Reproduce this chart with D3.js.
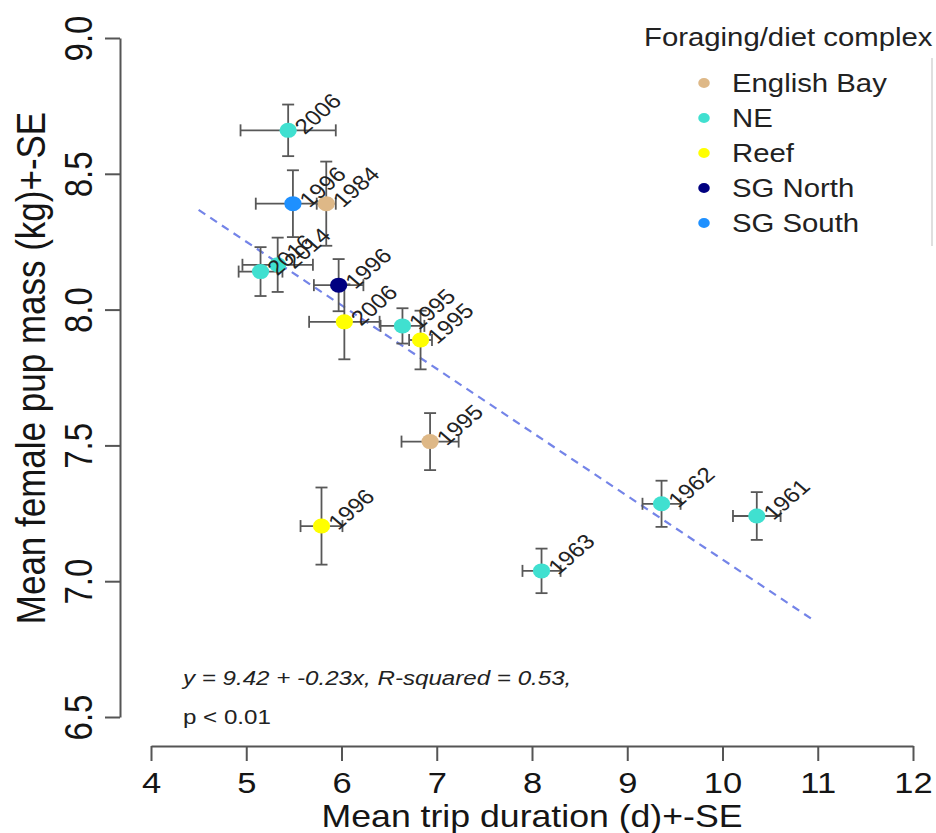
<!DOCTYPE html>
<html>
<head>
<meta charset="utf-8">
<script src="https://cdn.jsdelivr.net/npm/d3@7"></script>
<style>
  html, body { margin: 0; padding: 0; background: #fff; }
  svg { display: block; font-family: "Liberation Sans", Arial, Helvetica, sans-serif; }
</style>
</head>
<body>
<svg id="chart" width="936" height="833"></svg>
<script>
// Colony-year means: trip duration (d) vs female pup mass (kg), with SEs
const years     = ["2006", "1996", "1984", "2016", "2014", "1996", "2006", "1995", "1995", "1995", "1996", "1963", "1962", "1961"];
const complexes = ["NE", "SG South", "English Bay", "NE", "NE", "SG North", "Reef", "NE", "Reef", "English Bay", "Reef", "NE", "NE", "NE"];
const tripDays  = [5.44, 5.49, 5.84, 5.15, 5.33, 5.97, 6.03, 6.64, 6.83, 6.93, 5.79, 8.10, 9.36, 10.36];
const tripSE    = [0.50, 0.39, 0.10, 0.23, 0.37, 0.26, 0.37, 0.23, 0.12, 0.30, 0.22, 0.20, 0.20, 0.25];
const pupMass   = [8.66, 8.39, 8.39, 8.14, 8.165, 8.09, 7.955, 7.94, 7.888, 7.514, 7.203, 7.038, 7.285, 7.24];
const pupMassSE = [0.095, 0.123, 0.155, 0.09, 0.10, 0.096, 0.138, 0.065, 0.108, 0.105, 0.142, 0.082, 0.085, 0.088];

// Legend groups and their colours
const groupNames  = ["English Bay", "NE", "Reef", "SG North", "SG South"];
const groupColors = ["#deb887", "#40e0d0", "#ffff00", "#000080", "#1e90ff"];

// Axis ticks
const xTicks = [4, 5, 6, 7, 8, 9, 10, 11, 12];
const yTicks = [6.5, 7.0, 7.5, 8.0, 8.5, 9.0];

// Linear fit (coefficients shown rounded to 2 dp), drawn across the fitted range
const fitIntercept = 9.42;
const fitSlope = -0.234;
const fitRange = [4.5, 10.95];
const fitR2 = 0.53;

// The figure is rendered slightly wide: text glyphs are stretched horizontally
const stretch = 1.15;

const svg = d3.select("#chart");
const x = d3.scaleLinear().domain([4, 12]).range([151, 913]);
const y = d3.scaleLinear().domain([6.5, 9.0]).range([717, 38]);
const color = d3.scaleOrdinal().domain(groupNames).range(groupColors);

const axisColor = "#555";
const textColor = "#151515";

function addText(parent, px, py, str, opts) {
  const g = parent.append("g").attr("transform", `translate(${px},${py}) scale(${stretch},1)` + (opts.rotate ? ` rotate(${opts.rotate})` : ""));
  return g.append("text")
    .attr("text-anchor", opts.anchor || "start")
    .attr("font-size", opts.size)
    .attr("font-style", opts.italic ? "italic" : null)
    .attr("dominant-baseline", opts.baseline || null)
    .attr("fill", opts.fill || textColor)
    .text(str);
}

// X axis, detached below the plot
const xAxis = svg.append("g")
  .attr("transform", "translate(0,746)")
  .call(d3.axisBottom(x).tickValues(xTicks).tickFormat(d3.format("d")).tickSize(15).tickSizeOuter(0));
xAxis.select(".domain").attr("stroke", axisColor).attr("stroke-width", 2);
xAxis.selectAll(".tick line").attr("stroke", axisColor).attr("stroke-width", 2);
xAxis.selectAll(".tick text")
  .attr("fill", textColor).attr("font-size", 30)
  .attr("font-family", "Liberation Sans, Arial, sans-serif")
  .attr("y", null).attr("dy", null)
  .attr("transform", `translate(0,47) scale(${stretch},1)`);

// Y axis, detached left of the plot, labels parallel to the axis
const yAxis = svg.append("g")
  .attr("transform", "translate(120,0)")
  .call(d3.axisLeft(y).tickValues(yTicks).tickFormat(d3.format(".1f")).tickSize(15).tickSizeOuter(0));
yAxis.select(".domain").attr("stroke", axisColor).attr("stroke-width", 2);
yAxis.selectAll(".tick line").attr("stroke", axisColor).attr("stroke-width", 2);
yAxis.selectAll(".tick text")
  .attr("fill", textColor)
  .attr("font-size", 33)
  .attr("font-family", "Liberation Sans, Arial, sans-serif")
  .attr("x", null).attr("dy", null)
  .attr("text-anchor", "middle")
  .attr("transform", `translate(-28,0) scale(${stretch},1) rotate(-90)`);

// Axis titles
addText(svg, 532, 827, "Mean trip duration (d)+-SE", { size: 31, anchor: "middle" });
addText(svg, 45, 368, "Mean female pup mass (kg)+-SE", { size: 35, anchor: "middle", rotate: -90 });

// Regression line
svg.append("line")
  .attr("x1", x(fitRange[0])).attr("y1", y(fitIntercept + fitSlope * fitRange[0]))
  .attr("x2", x(fitRange[1])).attr("y2", y(fitIntercept + fitSlope * fitRange[1]))
  .attr("stroke", "#7484e8")
  .attr("stroke-width", 2.2)
  .attr("stroke-dasharray", "8,6");

const data = years.map((yr, i) => ({
  year: yr, group: complexes[i],
  x: tripDays[i], xse: tripSE[i], y: pupMass[i], yse: pupMassSE[i]
}));

// Error bars (x and y, with end caps)
const cap = 6;
const bars = svg.append("g").attr("stroke", "#585858").attr("stroke-width", 1.8).attr("fill", "none");
data.forEach(d => {
  const g = bars.append("g");
  const cx = x(d.x), cy = y(d.y);
  const x0 = x(d.x - d.xse), x1 = x(d.x + d.xse);
  const y0 = y(d.y - d.yse), y1 = y(d.y + d.yse);
  g.append("line").attr("x1", x0).attr("x2", x1).attr("y1", cy).attr("y2", cy);
  g.append("line").attr("x1", x0).attr("x2", x0).attr("y1", cy - cap).attr("y2", cy + cap);
  g.append("line").attr("x1", x1).attr("x2", x1).attr("y1", cy - cap).attr("y2", cy + cap);
  g.append("line").attr("x1", cx).attr("x2", cx).attr("y1", y0).attr("y2", y1);
  g.append("line").attr("x1", cx - cap).attr("x2", cx + cap).attr("y1", y0).attr("y2", y0);
  g.append("line").attr("x1", cx - cap).attr("x2", cx + cap).attr("y1", y1).attr("y2", y1);
});

// Points
svg.append("g").selectAll("ellipse").data(data).join("ellipse")
  .attr("cx", d => x(d.x)).attr("cy", d => y(d.y))
  .attr("rx", 7.5 * stretch).attr("ry", 7.5)
  .attr("fill", d => color(d.group));

// Year labels, rotated 45 degrees
const labels = svg.append("g");
data.forEach(d => {
  addText(labels, x(d.x) + 11, y(d.y), d.year, { size: 21, rotate: -45, baseline: "central", fill: "#222" });
});

// Fit statistics
addText(svg, 183, 685, `y = ${fitIntercept.toFixed(2)} + ${fitSlope.toFixed(2)}x, R-squared = ${fitR2.toFixed(2)},`,
  { size: 21, italic: true, fill: "#222" });
addText(svg, 183, 724, "p < 0.01", { size: 21, fill: "#222" });

// Legend
const legend = svg.append("g");
addText(legend, 644, 46, "Foraging/diet complex", { size: 25.5, fill: "#222" });
groupNames.forEach((name, i) => {
  const cy = 83 + i * 35;
  legend.append("ellipse").attr("cx", 704).attr("cy", cy).attr("rx", 5 * stretch).attr("ry", 5).attr("fill", color(name));
  addText(legend, 732, cy, name, { size: 25.5, baseline: "central", fill: "#222" });
});

// Edge of the neighbouring panel frame
svg.append("line")
  .attr("x1", 932).attr("x2", 932).attr("y1", 58).attr("y2", 246)
  .attr("stroke", "#d4d4d4").attr("stroke-width", 1.5);
</script>
</body>
</html>
